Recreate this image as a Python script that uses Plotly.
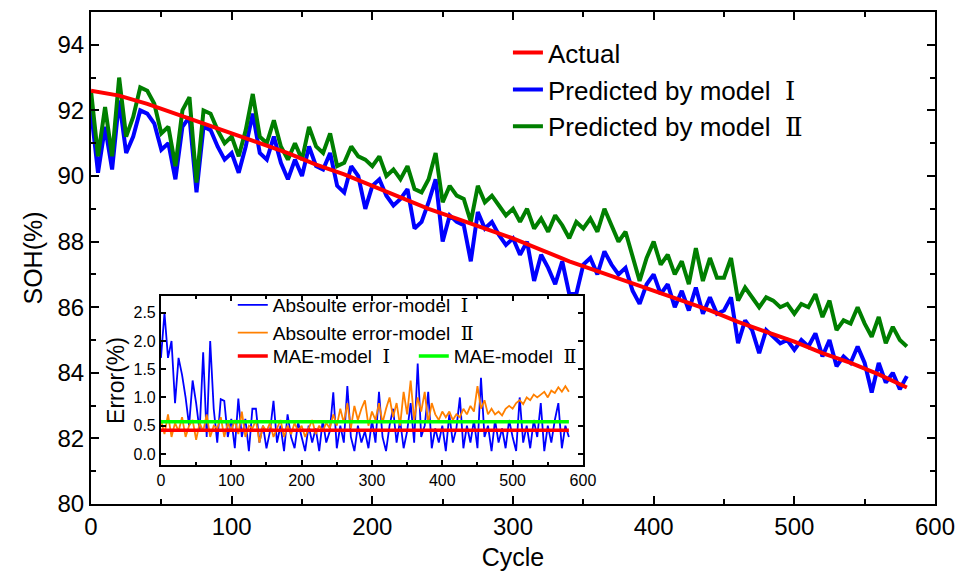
import plotly.graph_objects as go

# ---------------- data ----------------
cycles = list(range(0, 581, 5))
actual_cycles = list(range(0, 581, 20))

actual_soh = [92.6, 92.45, 92.2, 91.9, 91.6, 91.3, 91.0, 90.7, 90.35, 90.05,
              89.7, 89.35, 89.0, 88.7, 88.4, 88.1, 87.75, 87.4, 87.1, 86.8,
              86.5, 86.2, 85.9, 85.55, 85.25, 84.95, 84.6, 84.3, 83.95, 83.55]

model1_soh = [92.0, 90.1, 91.5, 90.2, 92.3, 90.7, 91.2, 92.0, 91.9, 91.6,
              90.8, 91.0, 89.9, 91.5, 91.8, 89.5, 91.5, 91.4, 90.9, 90.5,
              90.7, 90.1, 90.9, 91.9, 90.7, 90.5, 91.2, 90.4, 89.9, 90.5,
              90.0, 90.9, 90.3, 90.2, 90.7, 89.7, 89.5, 90.3, 90.0, 89.0,
              89.7, 89.9, 89.4, 89.1, 89.3, 89.6, 88.4, 88.6, 89.2, 89.9,
              88.0, 88.8, 88.6, 88.5, 87.4, 88.9, 88.4, 88.6, 88.2, 87.9,
              88.1, 87.6, 88.0, 86.8, 87.6, 87.2, 86.7, 87.4, 86.4, 86.4,
              87.3, 87.5, 87.0, 87.7, 87.3, 87.0, 87.2, 86.5, 86.1, 86.7,
              87.0, 86.4, 86.7, 86.0, 86.5, 85.9, 86.6, 85.8, 86.3, 85.8,
              85.9, 86.3, 84.9, 85.6, 85.3, 84.6, 85.3, 85.1, 84.9, 85.0,
              84.7, 85.0, 84.8, 85.2, 84.5, 85.0, 84.2, 84.5, 84.3, 84.8,
              84.3, 83.4, 84.3, 83.7, 84.0, 83.5, 83.9]

model2_soh = [92.6, 90.6, 92.1, 90.6, 93.0, 91.2, 91.8, 92.7, 92.6, 92.2,
              91.3, 91.5, 90.3, 92.0, 92.4, 89.8, 92.0, 91.9, 91.4, 91.0,
              91.2, 90.6, 91.4, 92.5, 91.2, 91.0, 91.7, 90.9, 90.5, 91.0,
              90.5, 91.5, 90.9, 90.7, 91.3, 90.3, 90.4, 90.9, 90.6, 90.5,
              90.3, 90.6, 90.0, 90.2, 89.9, 90.3, 89.6, 89.5, 89.9, 90.7,
              89.2, 89.7, 89.4, 89.3, 88.6, 89.7, 89.2, 89.4, 89.1, 88.8,
              89.0, 88.6, 89.0, 88.4, 88.7, 88.3, 88.8, 88.5, 88.1, 88.6,
              88.4, 88.7, 88.3, 89.0, 88.5, 88.0, 88.3, 87.6, 86.8, 87.5,
              88.0, 87.3, 87.6, 87.0, 87.4, 86.7, 87.8, 86.8, 87.5, 86.9,
              86.9, 87.5, 86.2, 86.6, 86.3, 86.0, 86.3, 86.2, 86.0, 86.1,
              85.8, 86.1, 86.0, 86.4, 85.7, 86.2, 85.3, 85.6, 85.5, 86.0,
              85.5, 85.1, 85.7, 84.9, 85.4, 85.0, 84.8]

abs_err_model1 = [1.7, 2.5, 1.7, 2.0, 0.9, 1.7, 1.4, 1.0, 0.5, 1.3,
                  0.9, 0.4, 1.8, 0.3, 2.0, 0.8, 0.2, 0.97, 0.94, 0.3,
                  0.62, 0.1, 0.98, 0.3, 0.62, 0.05, 0.8, 0.8, 0.2, 0.5,
                  0.1, 0.4, 0.94, 0.2, 0.5, 0.05, 0.7, 0.3, 0.1, 0.56,
                  0.3, 0.05, 0.5, 0.2, 0.45, 0.05, 0.6, 0.2, 0.4, 1.09,
                  0.1, 0.5, 0.2, 1.2, 0.3, 0.05, 0.5, 0.2, 0.4, 0.1,
                  0.6, 0.2, 1.1, 0.3, 0.05, 0.5, 0.8, 0.2, 0.6, 0.1,
                  0.4, 0.9, 0.2, 1.6, 0.3, 0.5, 1.1, 0.1, 0.45, 0.2,
                  0.5, 0.05, 0.7, 0.2, 0.45, 1.0, 0.1, 0.5, 0.2, 0.6,
                  0.1, 1.35, 0.3, 0.5, 0.05, 0.6, 0.2, 0.45, 0.1, 0.6,
                  0.3, 0.05, 1.0, 0.2, 0.5, 0.1, 0.6, 0.3, 0.9, 0.05,
                  0.5, 0.2, 0.6, 0.9, 0.1, 0.5, 0.3]

abs_err_model2 = [0.6, 0.35, 0.7, 0.3, 0.55, 0.4, 0.65, 0.3, 0.5, 0.6,
                  0.25, 0.55, 0.4, 0.7, 0.3, 0.5, 0.45, 0.65, 0.3, 0.55,
                  0.4, 0.6, 0.35, 0.75, 0.3, 0.5, 0.45, 0.6, 0.2, 0.5,
                  0.4, 0.55, 0.3, 0.45, 0.6, 0.3, 0.5, 0.35, 0.55, 0.4,
                  0.5, 0.3, 0.45, 0.6, 0.35, 0.5, 0.4, 0.55, 0.45, 0.7,
                  0.5, 0.8, 0.55, 0.9, 0.45, 0.85, 0.6, 0.8, 0.95, 0.5,
                  0.75, 0.6, 0.9, 0.55, 0.8, 1.0, 0.65, 0.9, 0.5, 1.1,
                  0.7, 1.3, 0.6, 1.0, 0.75, 1.1, 0.55, 0.9, 0.7, 0.6,
                  0.75, 0.65, 0.75, 0.6, 0.7, 0.65, 0.8, 0.7, 0.85, 0.75,
                  1.2, 0.8, 0.95, 0.7, 0.8, 0.7, 0.75, 0.68, 0.8, 0.85,
                  0.8, 0.9, 0.95, 0.88, 1.0, 0.95, 1.05, 1.0, 1.05, 1.1,
                  1.0, 1.12, 1.08, 1.18, 1.1, 1.2, 1.1]

mae_cycles = [0, 580]
mae_model1 = 0.42
mae_model2 = 0.57

FONT = "Liberation Sans, Arial, DejaVu Sans, sans-serif"
R1 = "<span style=\"font-family:'DejaVu Serif'\">Ⅰ</span>"
R2 = "<span style=\"font-family:'DejaVu Serif'\">Ⅱ</span>"

fig = go.Figure()

# ---------------- main traces ----------------
fig.add_trace(go.Scatter(x=cycles, y=model1_soh, mode="lines",
                         line=dict(color="#0000FF", width=4),
                         name="Predicted by model  " + R1, legend="legend",
                         legendrank=2, legendgroup="b"))
fig.add_trace(go.Scatter(x=cycles, y=model2_soh, mode="lines",
                         line=dict(color="#007F00", width=4),
                         name="Predicted by model  " + R2, legend="legend",
                         legendrank=3, legendgroup="c"))
fig.add_trace(go.Scatter(x=actual_cycles, y=actual_soh, mode="lines",
                         line=dict(color="#FF0000", width=4),
                         name="Actual", legend="legend",
                         legendrank=1, legendgroup="a"))

# ---------------- inset traces ----------------
fig.add_trace(go.Scatter(x=cycles, y=abs_err_model1, mode="lines",
                         xaxis="x2", yaxis="y2",
                         line=dict(color="#0000FF", width=1.8),
                         name="Absoulte error-model  " + R1, legend="legend2"))
fig.add_trace(go.Scatter(x=cycles, y=abs_err_model2, mode="lines",
                         xaxis="x2", yaxis="y2",
                         line=dict(color="#FF8000", width=1.8),
                         name="Absoulte error-model  " + R2, legend="legend2"))
fig.add_trace(go.Scatter(x=mae_cycles, y=[mae_model1] * len(mae_cycles), mode="lines",
                         xaxis="x2", yaxis="y2",
                         line=dict(color="#FF0000", width=3.5),
                         name="MAE-model  " + R1, legend="legend3"))
fig.add_trace(go.Scatter(x=mae_cycles, y=[mae_model2] * len(mae_cycles), mode="lines",
                         xaxis="x2", yaxis="y2",
                         line=dict(color="#00FF00", width=3.5),
                         name="MAE-model  " + R2, legend="legend3"))

main_axis = dict(showline=True, linecolor="black", linewidth=2, mirror="ticks",
                 ticks="inside", ticklen=8, tickwidth=2, tickcolor="black",
                 showgrid=False, zeroline=False,
                 tickfont=dict(family=FONT, size=24, color="black"))
inset_axis = dict(showline=True, linecolor="black", linewidth=2, mirror="ticks",
                  ticks="inside", ticklen=5, tickwidth=1.5, tickcolor="black",
                  showgrid=False, zeroline=False,
                  tickfont=dict(family=FONT, size=16, color="black"))

fig.update_layout(
    width=966, height=577,
    margin=dict(l=91, r=31, t=10, b=73),
    paper_bgcolor="white", plot_bgcolor="white",
    font=dict(family=FONT, color="black"),
    xaxis=dict(range=[0, 600], dtick=100, domain=[0, 1],
               minor=dict(dtick=50, ticks="inside", ticklen=5, tickwidth=2, tickcolor="black"),
               title=dict(text="Cycle", font=dict(family=FONT, size=25), standoff=10),
               **main_axis),
    yaxis=dict(range=[80, 95], dtick=2, domain=[0, 1],
               minor=dict(dtick=1, ticks="inside", ticklen=5, tickwidth=2, tickcolor="black"),
               title=dict(text="SOH(%)", font=dict(family=FONT, size=25), standoff=8),
               **main_axis),
    xaxis2=dict(range=[0, 600], dtick=100, domain=[0.0829, 0.5829], anchor="y2",
                minor=dict(dtick=50, ticks="inside", ticklen=3, tickwidth=1.5, tickcolor="black"),
                **inset_axis),
    yaxis2=dict(range=[-0.2, 2.8], dtick=0.5, tickformat=".1f", domain=[0.0789, 0.4231],
                anchor="x2",
                title=dict(text="Error(%)", font=dict(family=FONT, size=23), standoff=2),
                **inset_axis),
    legend=dict(x=0.494, y=0.965, xanchor="left", yanchor="top",
                bgcolor="rgba(0,0,0,0)", font=dict(family=FONT, size=26),
                tracegroupgap=0, itemwidth=30),
    legend2=dict(x=0.168, y=0.443, xanchor="left", yanchor="top",
                 bgcolor="rgba(0,0,0,0)", font=dict(family=FONT, size=19),
                 tracegroupgap=0),
    legend3=dict(x=0.168, y=0.339, xanchor="left", yanchor="top", orientation="h",
                 bgcolor="rgba(0,0,0,0)", font=dict(family=FONT, size=19),
                 entrywidth=136),
    showlegend=True,
)

fig.write_html("out.html")
